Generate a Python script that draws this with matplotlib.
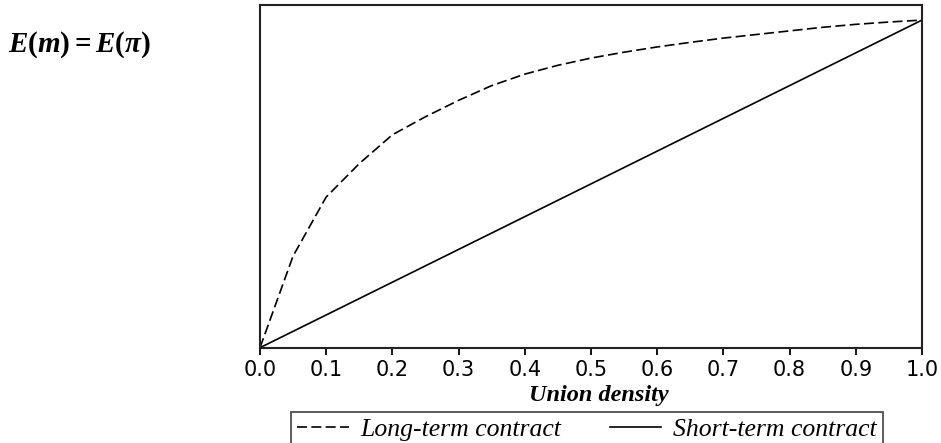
import numpy as np
import matplotlib
matplotlib.use('Agg')
import matplotlib.pyplot as plt

# union density grid and the two curves
density = [0.00, 0.05, 0.10, 0.15, 0.20, 0.25, 0.30, 0.35, 0.40, 0.45, 0.50,
           0.55, 0.60, 0.65, 0.70, 0.75, 0.80, 0.85, 0.90, 0.95, 1.00]
long_term = [0.000, 0.280, 0.460, 0.562, 0.650, 0.705, 0.755, 0.800, 0.835, 0.862, 0.884,
             0.902, 0.918, 0.932, 0.945, 0.956, 0.967, 0.978, 0.987, 0.994, 1.000]
short_term = density[:]

xticks = [0.0, 0.1, 0.2, 0.3, 0.4, 0.5, 0.6, 0.7, 0.8, 0.9, 1.0]

plt.rcParams['mathtext.fontset'] = 'custom'
plt.rcParams['mathtext.rm'] = 'Liberation Serif:bold'
plt.rcParams['mathtext.it'] = 'Liberation Serif:italic:bold'
plt.rcParams['mathtext.bf'] = 'Liberation Serif:bold'

fig = plt.figure(figsize=(9.41, 4.43), dpi=100)
ax = fig.add_axes([0.2763, 0.2151, 0.7035, 0.7736])

ax.plot(density, long_term, color='black', linestyle=(0, (6, 2.6)), linewidth=1.2,
        label='Long-term contract')
ax.plot(density, short_term, color='black', linestyle='-', linewidth=1.2,
        label='Short-term contract')

ax.set_xlim(0, 1)
ax.set_ylim(0, 1.046)
ax.set_yticks([])
ax.set_xticks(xticks)
ax.set_xticklabels(['%.1f' % t for t in xticks], fontfamily='DejaVu Sans', fontsize=15)
ax.tick_params(axis='x', direction='out', length=5, width=1.3, pad=3.5)

for s in ax.spines.values():
    s.set_linewidth(1.5)
    s.set_color('#222222')

ax.set_xlabel('Union density', fontfamily='Liberation Serif', fontweight='bold',
              fontstyle='italic', fontsize=17.5, va='center')
ax.xaxis.set_label_coords(0.512, -0.14)

fig.text(0.008, 0.9, r'$E(m) = E(\pi)$', fontsize=21, va='center', ha='left')

leg = fig.legend(loc='upper left', bbox_to_anchor=(0.3092, 0.0, 0.629, 0.07), mode='expand',
                 ncol=2, frameon=True, fancybox=False, edgecolor='#222222',
                 handlelength=2.0, handletextpad=0.45, borderpad=0.25, borderaxespad=0,
                 prop={'family': 'Liberation Serif', 'style': 'italic', 'size': 18.5})
leg.get_frame().set_linewidth(1.3)

plt.savefig('out.png', dpi=100)
